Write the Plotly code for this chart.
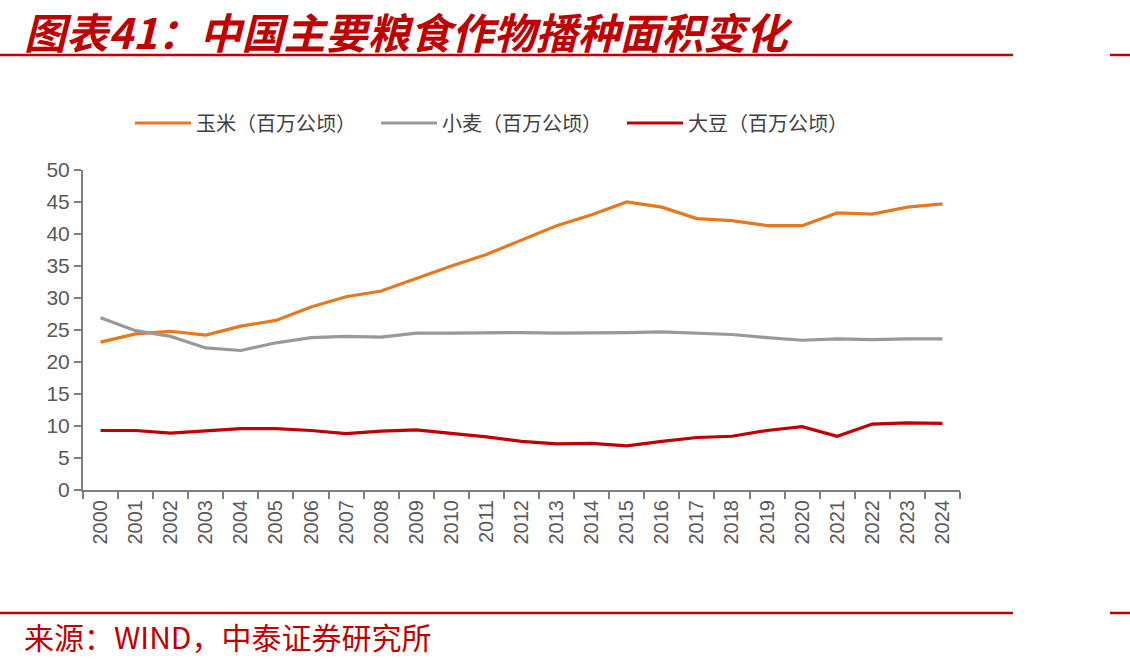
import plotly.graph_objects as go

years = [str(y) for y in range(2000, 2025)]
corn = [23.1, 24.4, 24.8, 24.2, 25.6, 26.5, 28.6, 30.2, 31.1, 33.1, 35.0, 36.8, 39.1, 41.3, 43.0, 45.0, 44.2, 42.4, 42.1, 41.3, 41.3, 43.3, 43.1, 44.2, 44.7]
wheat = [26.9, 24.9, 24.0, 22.2, 21.8, 23.0, 23.8, 24.0, 23.9, 24.5, 24.5, 24.6, 24.6, 24.5, 24.5, 24.6, 24.7, 24.5, 24.3, 23.8, 23.4, 23.6, 23.5, 23.6, 23.6]
soy = [9.3, 9.3, 8.9, 9.3, 9.6, 9.6, 9.3, 8.8, 9.2, 9.4, 8.9, 8.3, 7.6, 7.2, 7.3, 6.9, 7.6, 8.2, 8.4, 9.3, 9.9, 8.4, 10.3, 10.5, 10.4]
series_names = ["玉米（百万公顷）", "小麦（百万公顷）", "大豆（百万公顷）"]
series_colors = ["#E8781E", "#999999", "#C00000"]

title_text = "图表41：中国主要粮食作物播种面积变化"
source_text = "来源：WIND，中泰证券研究所"

W, H = 1130, 666
L, R, T, B = 83, 960, 170, 490
pw, ph = R - L, B - T

def px(x):
    return (x - L) / pw

def py(y):
    return (B - y) / ph

fig = go.Figure()
for name, vals, col in zip(series_names, [corn, wheat, soy], series_colors):
    fig.add_trace(go.Scatter(x=years, y=vals, mode="lines", name=name,
                             line=dict(color=col, width=3.2)))

red = "#C00000"
shapes = []
for yy in (55, 613):
    shapes.append(dict(type="line", xref="paper", yref="paper", x0=px(0), x1=px(1013),
                       y0=py(yy), y1=py(yy), line=dict(color=red, width=2.5)))
    shapes.append(dict(type="line", xref="paper", yref="paper", x0=px(1110), x1=px(1130),
                       y0=py(yy), y1=py(yy), line=dict(color=red, width=2.5)))

annotations = [
    dict(text="<b><i>" + title_text + "</i></b>", xref="paper", yref="paper",
         x=px(22), y=py(30), xanchor="left", yanchor="middle", showarrow=False,
         font=dict(family="Noto Sans CJK SC", size=42, color=red)),
    dict(text=source_text, xref="paper", yref="paper",
         x=px(22), y=py(636), xanchor="left", yanchor="middle", showarrow=False,
         font=dict(family="Noto Sans CJK SC", size=30, color=red)),
]

fig.update_layout(
    width=W, height=H,
    margin=dict(l=L, r=W - R, t=T, b=H - B, pad=0),
    paper_bgcolor="white", plot_bgcolor="white",
    shapes=shapes, annotations=annotations,
    showlegend=True,
    legend=dict(orientation="h", x=px(130), y=py(123), xanchor="left", yanchor="middle",
                font=dict(family="Noto Sans CJK SC", size=20, color="#404040"),
                itemwidth=56, entrywidth=175, entrywidthmode="pixels",
                bgcolor="rgba(0,0,0,0)"),
    xaxis=dict(type="category", range=[-0.5, 24.5], tickson="boundaries",
               ticks="outside", ticklen=7, tickcolor="#7f7f7f", tickwidth=1.5,
               showline=True, linecolor="#7f7f7f", linewidth=2, showgrid=False,
               tickangle=-90, tickfont=dict(family="Liberation Sans", size=20, color="#595959")),
    yaxis=dict(range=[0, 50], dtick=5, ticks="outside", ticklen=7, tickcolor="#7f7f7f",
               tickwidth=1.5, showline=True, linecolor="#7f7f7f", linewidth=2, showgrid=False,
               zeroline=False,
               tickfont=dict(family="Liberation Sans", size=21, color="#595959")),
)

fig.write_html("out.html")
